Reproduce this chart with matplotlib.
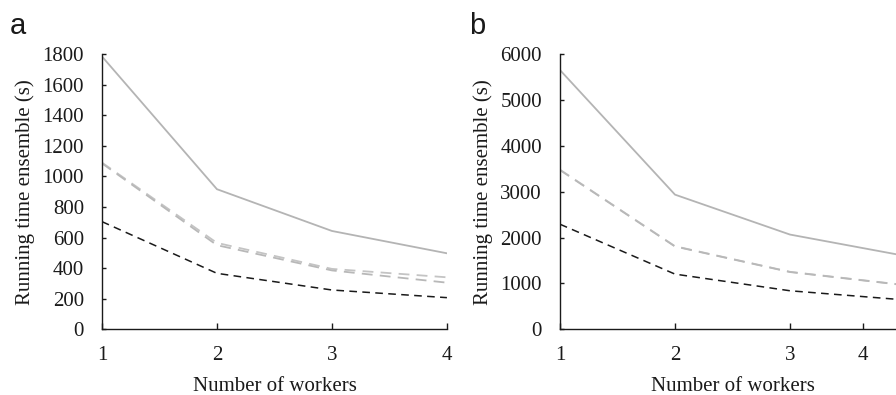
import numpy as np
import matplotlib.pyplot as plt

# Number of workers
workers = [1, 2, 3, 4]

# Panel a: running time ensemble (s)
a_solid = [1784, 916, 643, 497]
a_dash_light1 = [1090, 565, 395, 340]
a_dash_light2 = [1085, 550, 385, 305]
a_dash_dark = [704, 366, 257, 207]

# Panel b: running time ensemble (s)
b_solid = [5650, 2935, 2065, 1600]
b_dash_light1 = [3478, 1811, 1253, 965]
b_dash_light2 = [3470, 1805, 1248, 960]
b_dash_dark = [2290, 1203, 840, 640]

# tick labels
a_xticks = [1, 2, 3, 4]
b_xticks = [1, 2, 3, 3.635]
xlabels = ['1', '2', '3', '4']
a_yticks = [0, 200, 400, 600, 800, 1000, 1200, 1400, 1600, 1800]
b_yticks = [0, 1000, 2000, 3000, 4000, 5000, 6000]

plt.rcParams['font.family'] = ['Liberation Serif', 'DejaVu Serif']

fig = plt.figure(figsize=(8.96, 3.95), dpi=100)
ax_a = fig.add_axes([0.1138, 0.1663, 0.385, 0.697])
ax_b = fig.add_axes([0.625, 0.1663, 0.385, 0.697])


def draw(ax, solid, light1, light2, dark, ymax, yticks, xticks):
    ax.plot(workers, solid, color='#b4b4b4', lw=1.3, solid_joinstyle='miter')
    ax.plot(workers, light1, color='#c4c4c4', lw=1.3, dashes=(6, 4))
    ax.plot(workers, light2, color='#b8b8b8', lw=1.3, dashes=(6, 4))
    ax.plot(workers, dark, color='#1a1a1a', lw=1.1, dashes=(5, 3.5))
    ax.set_xlim(1, 4)
    ax.set_ylim(0, ymax)
    ax.set_xticks(xticks)
    ax.set_xticklabels(xlabels)
    ax.set_yticks(yticks)
    ax.spines['top'].set_visible(False)
    ax.spines['right'].set_visible(False)
    for s in ['left', 'bottom']:
        ax.spines[s].set_color('#1a1a1a')
        ax.spines[s].set_linewidth(1.0)
    ax.tick_params(axis='x', direction='in', length=4, width=1.0, pad=12,
                   labelsize=15, colors='#1a1a1a')
    ax.tick_params(axis='y', direction='in', length=3, width=1.0, pad=13,
                   labelsize=15, colors='#1a1a1a')
    ax.set_xlabel('Number of workers', fontsize=15, color='#1a1a1a', labelpad=9)
    ax.set_ylabel('Running time ensemble (s)', fontsize=15, color='#1a1a1a', labelpad=5)


draw(ax_a, a_solid, a_dash_light1, a_dash_light2, a_dash_dark, 1800, a_yticks, a_xticks)
draw(ax_b, b_solid, b_dash_light1, b_dash_light2, b_dash_dark, 6000, b_yticks, b_xticks)

fig.text(0.011, 0.915, 'a', fontsize=21, family='Liberation Sans', color='#1a1a1a')
fig.text(0.524, 0.915, 'b', fontsize=21, family='Liberation Sans', color='#1a1a1a')

plt.savefig('out.png', dpi=100)
